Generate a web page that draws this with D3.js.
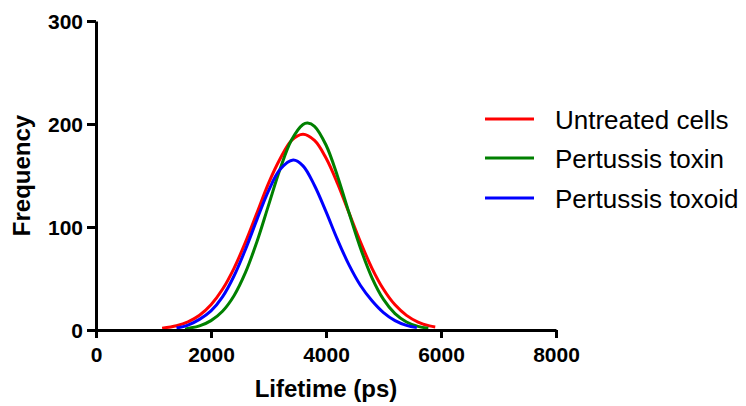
<!DOCTYPE html>
<html>
<head>
<meta charset="utf-8">
<script src="https://cdn.jsdelivr.net/npm/d3@7"></script>
<style>
  html, body { margin: 0; padding: 0; background: #fff; }
  svg { display: block; font-family: "Liberation Sans", Arial, sans-serif; }
</style>
</head>
<body>
<svg id="chart" width="746" height="406"></svg>
<script>
// ---- data ----
const seriesNames = ["Untreated cells", "Pertussis toxin", "Pertussis toxoid"];
const seriesColors = ["#ff0000", "#008000", "#0000ff"];

const untreatedX = [1150, 1400, 1600, 1800, 2000, 2200, 2400, 2600, 2800, 3000, 3200, 3400, 3600, 3800, 4000, 4200, 4400, 4600, 4800, 5000, 5200, 5400, 5600, 5800, 5900];
const untreatedY = [1.8, 4.2, 7.9, 14.3, 24.5, 39.5, 59.9, 85.3, 113.8, 142.4, 166, 184, 190, 184, 167, 142.4, 113.8, 85.3, 59.9, 39.5, 24.4, 14.2, 7.7, 4.0, 3.0];

const toxinX = [1550, 1600, 1800, 2000, 2200, 2400, 2600, 2800, 3000, 3200, 3400, 3600, 3680, 3800, 4000, 4200, 4400, 4600, 4800, 5000, 5200, 5400, 5600, 5780];
const toxinY = [0.8, 1.5, 4.0, 9.1, 18.2, 33.3, 55.9, 85.9, 121, 156, 184.4, 199.6, 201, 197.8, 179.6, 149.4, 113.8, 79.4, 50.7, 29.7, 15.9, 7.8, 3.5, 1.6];

const toxoidX = [1400, 1600, 1800, 2000, 2200, 2400, 2600, 2800, 3000, 3200, 3430, 3600, 3800, 4000, 4200, 4400, 4600, 4800, 5000, 5200, 5400, 5580];
const toxoidY = [1.9, 4.8, 10.3, 18.5, 32.1, 52.4, 78.3, 107.4, 135.1, 155.8, 165, 159.4, 140.3, 114.9, 87.7, 63.2, 43.2, 28.4, 16.9, 9.1, 4.5, 2.3];

const xTicks = [0, 2000, 4000, 6000, 8000];
const yTicks = [0, 100, 200, 300];
const xLabel = "Lifetime (ps)";
const yLabel = "Frequency";

// ---- layout ----
const svg = d3.select("#chart");
const mLeft = 96, mRight = 556, mTop = 21, mBottom = 330;

const x = d3.scaleLinear().domain([0, 8000]).range([mLeft, mRight]);
const y = d3.scaleLinear().domain([0, 300]).range([mBottom, mTop]);

const series = [
  { name: seriesNames[0], color: seriesColors[0], pts: untreatedX.map((v, i) => [v, untreatedY[i]]) },
  { name: seriesNames[1], color: seriesColors[1], pts: toxinX.map((v, i) => [v, toxinY[i]]) },
  { name: seriesNames[2], color: seriesColors[2], pts: toxoidX.map((v, i) => [v, toxoidY[i]]) }
];

const line = d3.line()
  .x(d => x(d[0]))
  .y(d => y(d[1]))
  .curve(d3.curveCatmullRom);

// curves
svg.append("g").selectAll("path")
  .data(series)
  .join("path")
  .attr("d", d => line(d.pts))
  .attr("fill", "none")
  .attr("stroke", d => d.color)
  .attr("stroke-width", 3);

// axes
const xAxis = svg.append("g")
  .attr("transform", `translate(0,${mBottom})`)
  .call(d3.axisBottom(x).tickValues(xTicks).tickSize(8).tickSizeOuter(0).tickPadding(9).tickFormat(d3.format("d")));
const yAxis = svg.append("g")
  .attr("transform", `translate(${mLeft},0)`)
  .call(d3.axisLeft(y).tickValues(yTicks).tickSize(9).tickSizeOuter(0).tickPadding(4).tickFormat(d3.format("d")));

[xAxis, yAxis].forEach(g => {
  g.select(".domain").attr("stroke", "#000").attr("stroke-width", 3);
  g.selectAll(".tick line").attr("stroke", "#000").attr("stroke-width", 3);
  g.selectAll(".tick text")
    .attr("fill", "#000")
    .style("font-family", '"Liberation Sans", Arial, sans-serif')
    .style("font-size", "21px")
    .style("font-weight", "bold");
});
yAxis.selectAll(".tick text").attr("dy", "0.36em");

// axis titles
svg.append("text")
  .attr("x", (mLeft + mRight) / 2)
  .attr("y", 397)
  .attr("text-anchor", "middle")
  .style("font-size", "24px")
  .style("font-weight", "bold")
  .text(xLabel);

svg.append("text")
  .attr("transform", `translate(30,${(mTop + mBottom) / 2}) rotate(-90)`)
  .attr("text-anchor", "middle")
  .style("font-size", "24px")
  .style("font-weight", "bold")
  .text(yLabel);

// legend
const legend = svg.append("g");
const rowY = [120, 159, 199];
series.forEach((s, i) => {
  legend.append("line")
    .attr("x1", 485).attr("x2", 534)
    .attr("y1", rowY[i] - 1).attr("y2", rowY[i] - 1)
    .attr("stroke", s.color).attr("stroke-width", 3);
  legend.append("text")
    .attr("x", 555)
    .attr("y", rowY[i] + 9)
    .style("font-size", "26px")
    .attr("fill", "#000")
    .text(s.name);
});
</script>
</body>
</html>
